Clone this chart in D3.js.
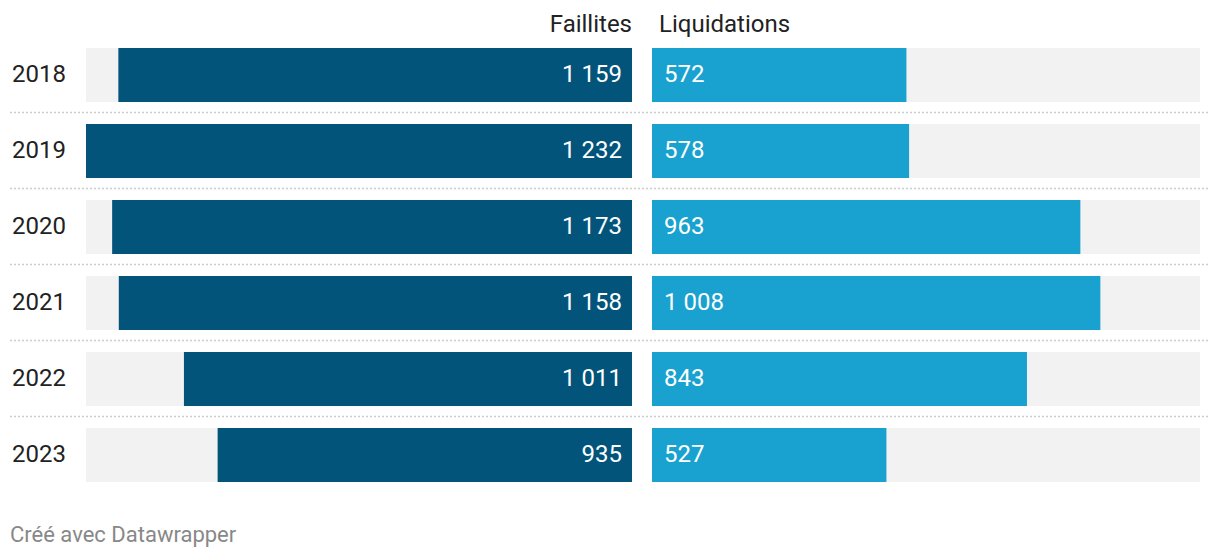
<!DOCTYPE html>
<html><head><meta charset="utf-8">
<script src="https://cdn.jsdelivr.net/npm/d3@7"></script>
<style>
body{margin:0;background:#fff;}
svg{display:block;font-family:Roboto,sans-serif;}
</style></head>
<body><svg id="chart" width="1220" height="558"></svg>
<script>
const years = ["2018","2019","2020","2021","2022","2023"];
const faillites = [1159,1232,1173,1158,1011,935];
const liquidations = [572,578,963,1008,843,527];
const headers = ["Faillites","Liquidations"];
const footer = "Créé avec Datawrapper";

const svg = d3.select("#chart");
const fmtSp = v => d3.format(",")(v).replace(/,/g, " ");

const yb = d3.scaleBand().domain(years).range([48, 48 + 76*6 - 22]).paddingInner(22/76).paddingOuter(0);
const maxV = d3.max(faillites.concat(liquidations));
const xL = d3.scaleLinear().domain([0, maxV]).range([632, 86]);
const xR = d3.scaleLinear().domain([0, maxV]).range([652, 1200]);

const rows = years.map((yr,i)=>({yr, f: faillites[i], l: liquidations[i]}));
const bh = yb.bandwidth();
const fs = 24;

svg.selectAll("line.sep").data(years.slice(1)).join("line")
  .attr("x1", 10).attr("x2", 1208)
  .attr("y1", d => yb(d) - 11.5).attr("y2", d => yb(d) - 11.5)
  .attr("stroke", "#cccccc").attr("stroke-width", 1.5).attr("stroke-dasharray", "2,2");

const g = svg.selectAll("g.row").data(rows).join("g").attr("class","row");
g.append("rect").attr("x", xL(maxV)).attr("width", xL(0)-xL(maxV))
  .attr("y", d=>yb(d.yr)).attr("height", bh).attr("fill", "#f2f2f2");
g.append("rect").attr("x", xR(0)).attr("width", xR(maxV)-xR(0))
  .attr("y", d=>yb(d.yr)).attr("height", bh).attr("fill", "#f2f2f2");
g.append("rect").attr("x", d=>xL(d.f)).attr("width", d=>xL(0)-xL(d.f))
  .attr("y", d=>yb(d.yr)).attr("height", bh).attr("fill", "#02547b");
g.append("rect").attr("x", xR(0)).attr("width", d=>xR(d.l)-xR(0))
  .attr("y", d=>yb(d.yr)).attr("height", bh).attr("fill", "#19a2cf");
g.append("text").attr("x", xL(0)-10).attr("y", d=>yb(d.yr)+bh/2+7)
  .attr("text-anchor","end").attr("fill","#fff").attr("font-size",fs)
  .text(d=>fmtSp(d.f));
g.append("text").attr("x", xR(0)+12).attr("y", d=>yb(d.yr)+bh/2+7)
  .attr("fill","#fff").attr("font-size",fs)
  .text(d=>fmtSp(d.l));
g.append("text").attr("x", 12).attr("y", d=>yb(d.yr)+bh/2+7)
  .attr("fill","#222").attr("font-size",fs).text(d=>d.yr);

svg.append("text").attr("x", 632).attr("y", 32).attr("text-anchor","end")
  .attr("fill","#222").attr("font-size",fs).text(headers[0]);
svg.append("text").attr("x", 659).attr("y", 32)
  .attr("fill","#222").attr("font-size",fs).text(headers[1]);

svg.append("text").attr("x", 10).attr("y", 542).attr("fill","#888")
  .attr("font-size",22).text(footer);
</script></body></html>
